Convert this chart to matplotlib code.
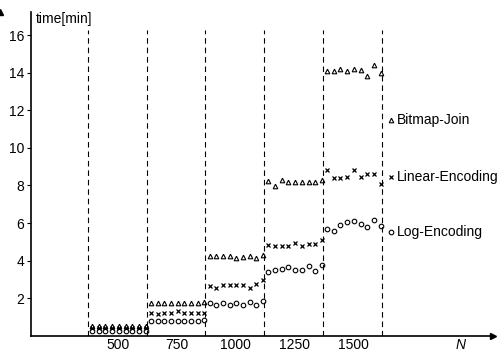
import matplotlib
matplotlib.use("Agg")
import matplotlib.pyplot as plt
import numpy as np

plt.rcParams['font.family'] = ['Liberation Sans', 'DejaVu Sans']

# group centres (N) and bin borders
N = [500, 750, 1000, 1250, 1500]
borders = [372, 622, 872, 1122, 1372, 1622]

# 9 measurements per group, time in minutes
bitmap_join = [
    [0.5, 0.5, 0.5, 0.5, 0.5, 0.5, 0.5, 0.5, 0.5],
    [1.75, 1.75, 1.75, 1.75, 1.75, 1.75, 1.75, 1.75, 1.8],
    [4.25, 4.25, 4.25, 4.25, 4.15, 4.2, 4.25, 4.15, 4.3],
    [8.25, 7.95, 8.3, 8.2, 8.2, 8.2, 8.2, 8.2, 8.3],
    [14.1, 14.1, 14.2, 14.1, 14.2, 14.15, 13.85, 14.4, 14.0],
]
linear_enc = [
    [0.42, 0.42, 0.42, 0.42, 0.42, 0.42, 0.42, 0.42, 0.42],
    [1.2, 1.15, 1.2, 1.2, 1.3, 1.2, 1.2, 1.2, 1.2],
    [2.65, 2.55, 2.7, 2.7, 2.7, 2.7, 2.55, 2.75, 2.95],
    [4.85, 4.75, 4.8, 4.8, 4.95, 4.75, 4.9, 4.9, 5.1],
    [8.8, 8.4, 8.4, 8.45, 8.8, 8.45, 8.6, 8.6, 8.1],
]
log_enc = [
    [0.25, 0.25, 0.25, 0.25, 0.25, 0.25, 0.25, 0.25, 0.25],
    [0.8, 0.8, 0.8, 0.8, 0.8, 0.8, 0.8, 0.8, 0.85],
    [1.75, 1.65, 1.75, 1.65, 1.75, 1.65, 1.8, 1.65, 1.85],
    [3.4, 3.5, 3.55, 3.65, 3.5, 3.5, 3.7, 3.45, 3.75],
    [5.7, 5.55, 5.9, 6.05, 6.1, 5.95, 5.8, 6.15, 5.85],
]
labels = ['Bitmap-Join', 'Linear-Encoding', 'Log-Encoding']
label_y = [11.5, 8.45, 5.5]
markers = ['^', 'x', 'o']

fig = plt.figure(figsize=(5, 3.57), dpi=100)
ax = fig.add_axes([0.062, 0.06, 0.924, 0.906])

# dashed separators between the N groups
for b in borders:
    ax.vlines(b, 0, 16.3, colors='k', linestyles=(0, (5, 3.5)), linewidth=0.8)

def draw(xs, ys, m):
    if m == 'x':
        ax.plot(xs, ys, ls='none', marker=m, ms=3.3, mew=0.9, color='k', clip_on=False)
    else:
        ax.plot(xs, ys, ls='none', marker=m, ms=3.3, mew=0.8, mfc='none', mec='k', clip_on=False)

for series, m in zip([bitmap_join, linear_enc, log_enc], markers):
    for k in range(len(N)):
        xs = np.linspace(borders[k] + 18, borders[k + 1] - 4, len(series[k]))
        draw(xs, series[k], m)

# legend written next to the last group
for lab, ly, m in zip(labels, label_y, markers):
    draw([1662], [ly], m)
    ax.text(1685, ly, lab, fontsize=10, va='center', ha='left', clip_on=False)

ax.set_xlim(130, 2096)
ax.set_ylim(0, 17.24)
ax.set_xticks(N)
ax.set_xticklabels([str(n) for n in N])
ax.set_yticks([2, 4, 6, 8, 10, 12, 14, 16])
ax.tick_params(axis='x', length=0, pad=2, labelsize=10)
ax.tick_params(axis='y', length=3, width=0.8, pad=2, labelsize=10)

for s in ['top', 'right']:
    ax.spines[s].set_visible(False)
ax.spines['left'].set_linewidth(1.2)
ax.spines['bottom'].set_linewidth(1.2)
ax.plot(1, 0, '>k', ms=4, transform=ax.get_yaxis_transform(), clip_on=False)
ax.plot(0, 1, '^k', ms=4, transform=ax.get_xaxis_transform(), clip_on=False)

ax.text(152, 16.9, 'time[min]', fontsize=10, va='center', ha='left')
ax.text(0.93, -0.028, 'N', fontsize=10, style='italic', transform=ax.transAxes,
        va='center', ha='center')

fig.savefig('out.png', dpi=100)
